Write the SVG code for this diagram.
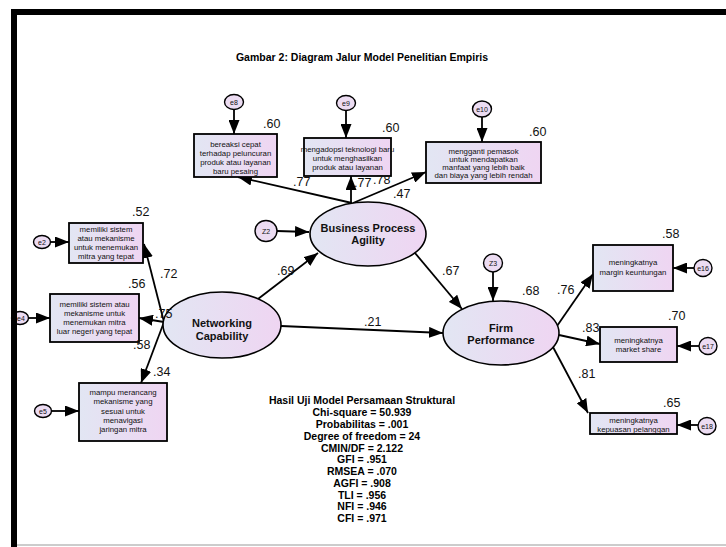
<svg xmlns="http://www.w3.org/2000/svg" width="726" height="547" viewBox="0 0 726 547">
<style>
.bx{fill:url(#g);stroke:#000;stroke-width:1.8}
.el{fill:url(#g);stroke:#000;stroke-width:1.6}
.ci{fill:#ecdcf2;stroke:#000;stroke-width:1.4}
.bt{font-family:"Liberation Sans",Arial,sans-serif;font-size:7.8px;text-anchor:middle;fill:#111}
.ct{font-family:"Liberation Sans",Arial,sans-serif;font-size:7px;text-anchor:middle;fill:#111}
.et{font-family:"Liberation Sans",Arial,sans-serif;font-size:11px;font-weight:bold;text-anchor:middle;fill:#111}
.lb{font-family:"Liberation Sans",Arial,sans-serif;font-size:12.5px;fill:#111}
.st{font-family:"Liberation Sans",Arial,sans-serif;font-size:10.5px;font-weight:bold;text-anchor:middle;fill:#000}
#connectors line{stroke:#000;stroke-width:1.8;marker-end:url(#ah)}
</style>
<defs>
<linearGradient id="g" x1="0" y1="0" x2="1" y2="0">
<stop offset="0" stop-color="#e2e6f3"/>
<stop offset="1" stop-color="#efd5f2"/>
</linearGradient>
<marker id="ah" markerUnits="userSpaceOnUse" markerWidth="15" markerHeight="11" refX="14" refY="5.5" orient="auto">
<path d="M0,0 L14,5.5 L0,11 z" fill="#000"/>
</marker>
</defs>
<rect width="726" height="547" fill="#fff"/>

<g id="connectors">
<line x1="234" y1="109.5" x2="234" y2="134"/>
<line x1="346" y1="110.5" x2="346" y2="138"/>
<line x1="482" y1="117" x2="482" y2="142"/>
<line x1="352" y1="203" x2="238" y2="177"/>
<line x1="351" y1="203" x2="351" y2="176"/>
<line x1="353" y1="203" x2="426" y2="172"/>
<line x1="277" y1="231" x2="309" y2="232"/>
<line x1="258" y1="299" x2="318" y2="253"/>
<line x1="281" y1="326" x2="443" y2="333"/>
<line x1="415" y1="253" x2="462" y2="309"/>
<line x1="493" y1="272" x2="493" y2="301"/>
<line x1="164" y1="322" x2="144" y2="244"/>
<line x1="164" y1="322" x2="139" y2="318"/>
<line x1="164" y1="322" x2="141" y2="383"/>
<line x1="50.5" y1="242" x2="69" y2="242"/>
<line x1="28.5" y1="318" x2="50" y2="318"/>
<line x1="51.5" y1="411" x2="79" y2="411"/>
<line x1="557" y1="326" x2="593" y2="274"/>
<line x1="559" y1="335" x2="600" y2="344"/>
<line x1="553" y1="347" x2="588" y2="413"/>
<line x1="694" y1="268" x2="673" y2="268"/>
<line x1="699" y1="346" x2="677" y2="346"/>
<line x1="698" y1="425" x2="677" y2="425"/>
</g>

<g id="e8"><ellipse class="ci" cx="234" cy="102" rx="9.5" ry="7.5"/><text class="ct" x="234" y="104.5">e8</text></g>
<g id="e9"><ellipse class="ci" cx="346" cy="103" rx="9.5" ry="7.5"/><text class="ct" x="346" y="105.5">e9</text></g>
<g id="e10"><ellipse class="ci" cx="482" cy="109" rx="9.5" ry="8"/><text class="ct" x="482" y="111.5">e10</text></g>
<g id="z2"><ellipse class="ci" cx="266" cy="231" rx="11" ry="10.5"/><text class="ct" x="266" y="233.5">Z2</text></g>
<g id="z3"><ellipse class="ci" cx="493" cy="263" rx="9.5" ry="9"/><text class="ct" x="493" y="265.5">Z3</text></g>
<g id="e2"><ellipse class="ci" cx="42" cy="242" rx="8.5" ry="6.5"/><text class="ct" x="42" y="244.5">e2</text></g>
<g id="e4"><ellipse class="ci" cx="20" cy="318" rx="8.5" ry="6.5"/><text class="ct" x="21" y="320.5">e4</text></g>
<g id="e5"><ellipse class="ci" cx="43" cy="411" rx="8.5" ry="6.5"/><text class="ct" x="43" y="413.5">e5</text></g>
<g id="e16"><ellipse class="ci" cx="703" cy="268" rx="9" ry="8.5"/><text class="ct" x="703" y="270.5">e16</text></g>
<g id="e17"><ellipse class="ci" cx="708" cy="346" rx="9" ry="8.5"/><text class="ct" x="708" y="348.5">e17</text></g>
<g id="e18"><ellipse class="ci" cx="707" cy="426" rx="9" ry="8.5"/><text class="ct" x="707" y="428.5">e18</text></g>

<g id="box1"><rect class="bx" x="194" y="134" width="83" height="43"/>
<text class="bt" x="235.5" y="147">bereaksi cepat</text><text class="bt" x="235.5" y="156">terhadap peluncuran</text><text class="bt" x="235.5" y="165">produk atau layanan</text><text class="bt" x="235.5" y="174">baru pesaing</text></g>
<g id="box2"><rect class="bx" x="304" y="138" width="87" height="38"/>
<text class="bt" x="347.5" y="152">mengadopsi teknologi baru</text><text class="bt" x="347.5" y="161">untuk menghasilkan</text><text class="bt" x="347.5" y="170">produk atau layanan</text></g>
<g id="box3"><rect class="bx" x="426" y="142" width="115" height="41"/>
<text class="bt" x="483.5" y="154">mengganti pemasok</text><text class="bt" x="483.5" y="162">untuk mendapatkan</text><text class="bt" x="483.5" y="170">manfaat yang lebih baik</text><text class="bt" x="483.5" y="178">dan biaya yang lebih rendah</text></g>
<g id="boxL1"><rect class="bx" x="69" y="223" width="74" height="40"/>
<text class="bt" x="106" y="232">memiliki sistem</text><text class="bt" x="106" y="241">atau mekanisme</text><text class="bt" x="106" y="250">untuk menemukan</text><text class="bt" x="106" y="259">mitra yang tepat</text></g>
<g id="boxL2"><rect class="bx" x="50" y="294" width="89" height="48"/>
<text class="bt" x="94.5" y="307">memiliki sistem atau</text><text class="bt" x="94.5" y="316">mekanisme untuk</text><text class="bt" x="94.5" y="325">menemukan mitra</text><text class="bt" x="94.5" y="334">luar negeri yang tepat</text></g>
<g id="boxL3"><rect class="bx" x="79" y="383" width="88" height="58"/>
<text class="bt" x="123" y="395">mampu merancang</text><text class="bt" x="123" y="404">mekanisme yang</text><text class="bt" x="123" y="414">sesuai untuk</text><text class="bt" x="123" y="423">menavigasi</text><text class="bt" x="123" y="432">jaringan mitra</text></g>
<g id="boxR1"><rect class="bx" x="593" y="245" width="80" height="46"/>
<text class="bt" x="633" y="265">meningkatnya</text><text class="bt" x="633" y="275">margin keuntungan</text></g>
<g id="boxR2"><rect class="bx" x="600" y="327" width="77" height="35"/>
<text class="bt" x="638.5" y="343">meningkatnya</text><text class="bt" x="638.5" y="352">market share</text></g>
<g id="boxR3"><rect class="bx" x="590" y="413" width="87" height="21"/>
<text class="bt" x="633.5" y="423">meningkatnya</text><text class="bt" x="633.5" y="431.5">kepuasan pelanggan</text></g>

<g id="bpa"><ellipse class="el" cx="368" cy="234" rx="58" ry="32"/>
<text class="et" x="368" y="232">Business Process</text><text class="et" x="368" y="244">Agility</text></g>
<g id="nc"><ellipse class="el" cx="222" cy="325" rx="59" ry="33"/>
<text class="et" x="222" y="327">Networking</text><text class="et" x="222" y="340">Capability</text></g>
<g id="fp"><ellipse class="el" cx="501" cy="333" rx="58" ry="32"/>
<text class="et" x="501" y="332">Firm</text><text class="et" x="501" y="344">Performance</text></g>

<g id="labels">
<text class="lb" x="263" y="128">.60</text>
<text class="lb" x="382" y="132">.60</text>
<text class="lb" x="529" y="136">.60</text>
<text class="lb" x="293" y="186">.77</text>
<text class="lb" x="354" y="187">.77</text>
<text class="lb" x="373" y="184">.78</text>
<text class="lb" x="393" y="198">.47</text>
<text class="lb" x="277" y="275">.69</text>
<text class="lb" x="442" y="275">.67</text>
<text class="lb" x="522" y="295">.68</text>
<text class="lb" x="364" y="326">.21</text>
<text class="lb" x="132" y="216">.52</text>
<text class="lb" x="160" y="278">.72</text>
<text class="lb" x="128" y="288">.56</text>
<text class="lb" x="155" y="318">.75</text>
<text class="lb" x="133" y="349">.58</text>
<text class="lb" x="153" y="376">.34</text>
<text class="lb" x="662" y="238">.58</text>
<text class="lb" x="557" y="294">.76</text>
<text class="lb" x="668" y="320">.70</text>
<text class="lb" x="582" y="332">.83</text>
<text class="lb" x="578" y="378">.81</text>
<text class="lb" x="663" y="407">.65</text>
</g>

<g id="stats">
<text class="st" x="362" y="404">Hasil Uji Model Persamaan Struktural</text>
<text class="st" x="362" y="416">Chi-square = 50.939</text>
<text class="st" x="362" y="428">Probabilitas = .001</text>
<text class="st" x="362" y="440">Degree of freedom = 24</text>
<text class="st" x="362" y="452">CMIN/DF = 2.122</text>
<text class="st" x="362" y="463">GFI = .951</text>
<text class="st" x="362" y="475">RMSEA = .070</text>
<text class="st" x="362" y="487">AGFI = .908</text>
<text class="st" x="362" y="499">TLI = .956</text>
<text class="st" x="362" y="510">NFI = .946</text>
<text class="st" x="362" y="522">CFI = .971</text>
</g>

<text class="st" x="362" y="61">Gambar 2: Diagram Jalur Model Penelitian Empiris</text>

<g id="frame">
<rect x="11" y="9" width="715" height="6" fill="#000"/>
<rect x="11" y="9" width="6" height="538" fill="#000"/>
<line x1="17" y1="545" x2="726" y2="545" stroke="#999" stroke-width="1.2"/>
</g>
</svg>
